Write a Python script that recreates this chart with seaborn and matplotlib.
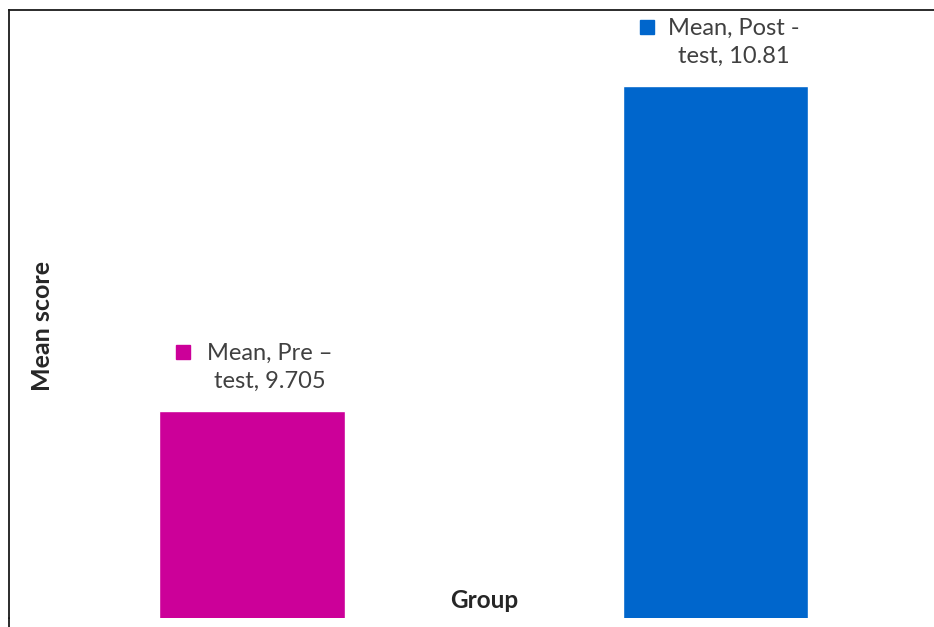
import matplotlib
matplotlib.use("Agg")
import matplotlib.pyplot as plt
import matplotlib.transforms as mtransforms
from matplotlib.lines import Line2D
import seaborn as sns
import pandas as pd

# ---- data ----
groups = ["Pre – test", "Post - test"]
means = [9.705, 10.81]
label_line1 = ["Mean, Pre –", "Mean, Post -"]
label_line2 = ["test, 9.705", "test, 10.81"]
colors = ["#CC0099", "#0066CC"]

sns.set_theme(style="white")
plt.rcParams["font.family"] = ["Lato", "DejaVu Sans"]

W, H, DPI = 934, 627, 100
fig = plt.figure(figsize=(W / DPI, H / DPI), dpi=DPI)
left_px, top_px, bottom_px = 9, 10, 618
ax = fig.add_axes([left_px / W, (H - bottom_px) / H, 1 - left_px / W, (bottom_px - top_px) / H])

df = pd.DataFrame({"Group": groups, "Mean score": means})
sns.barplot(data=df, x="Group", y="Mean score", hue="Group", palette=colors,
            width=0.4, legend=False, ax=ax, saturation=1)

ax.set_ylim(9.0, 11.07)
ax.set_xlim(-0.524, 1.471)
ax.set_xticks([])
ax.set_yticks([])

for s in ["right", "bottom"]:
    ax.spines[s].set_visible(False)
for s in ["top", "left"]:
    ax.spines[s].set_color("#1a1a1a")
    ax.spines[s].set_linewidth(1.3)
# left border continues to the bottom of the picture
fig.add_artist(Line2D([left_px / W, left_px / W], [0, (H - bottom_px) / H],
                      transform=fig.transFigure, color="#1a1a1a", lw=1.3))

txt_color = "#404040"
for i, (v, l1, l2, c) in enumerate(zip(means, label_line1, label_line2, colors)):
    ax.annotate(l2, xy=(i, v), xytext=(18, 30), textcoords="offset pixels",
                ha="center", va="center", fontsize=17, color=txt_color)
    ax.annotate(l1, xy=(i, v), xytext=(18, 58), textcoords="offset pixels",
                ha="center", va="center", fontsize=17, color=txt_color)
    tr = mtransforms.offset_copy(ax.transData, fig=fig, x=-69, y=59, units="dots")
    ax.plot([i], [v], marker="s", markersize=10, color=c, transform=tr,
            clip_on=False, linestyle="none")

ax.set_xlabel("Group", fontsize=17.5, fontweight="bold", color="#262626")
ax.xaxis.set_label_coords((484 - left_px) / (W - left_px), (bottom_px - 601) / (bottom_px - top_px))
ax.xaxis.label.set_va("center")
ax.set_ylabel("Mean score", fontsize=18, fontweight="bold", color="#262626")
ax.yaxis.set_label_coords((43 - left_px) / (W - left_px), (bottom_px - 326) / (bottom_px - top_px))
ax.yaxis.label.set_va("center")

fig.savefig("out.png", dpi=DPI)
